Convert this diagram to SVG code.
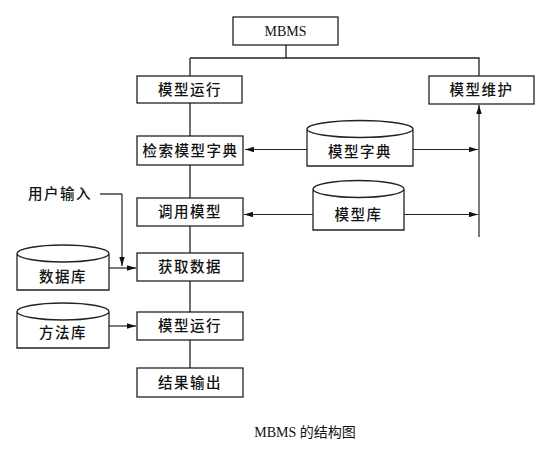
<svg xmlns="http://www.w3.org/2000/svg" width="554" height="452" viewBox="0 0 554 452">
<defs>
<marker id="ah" viewBox="0 0 10 6" refX="10" refY="3" markerWidth="9" markerHeight="5.4" markerUnits="userSpaceOnUse" orient="auto">
<path d="M0,0 L10,3 L0,6 Z" fill="#111"/>
</marker>
<style>
.box{fill:#fff;stroke:#222;stroke-width:1.3}
.cyl{fill:#fff;stroke:#222;stroke-width:1.3}
.ln{fill:none;stroke:#222;stroke-width:1.3}
.arr{fill:none;stroke:#222;stroke-width:1.2;marker-end:url(#ah)}
.t{font-family:"Liberation Serif","Noto Sans CJK SC",serif;font-size:14px;fill:#111;text-anchor:middle;dominant-baseline:central}
.tz{font-size:14.5px;letter-spacing:1.5px;font-weight:500}
</style>
</defs>
<rect width="554" height="452" fill="#fff"/>
<g id="connectors">
<path class="ln" d="M286,45 V58 M190,58 H479 V76"/>
<path class="ln" d="M190,58 V76 M190,103 V136 M190,165 V198 M190,226 V253 M190,281 V312 M190,340 V368"/>
<path class="arr" d="M307,149.5 H245"/>
<path class="arr" d="M413,149.5 H478"/>
<path class="arr" d="M313,214.5 H244"/>
<path class="arr" d="M404,214.5 H478"/>
<path class="arr" d="M479,237 V105"/>
<path class="ln" d="M100,194 H122"/>
<path class="arr" d="M122,194 V266"/>
<path class="arr" d="M109,268 H136"/>
<path class="arr" d="M109,326 H136"/>
</g>
<g id="mbms"><rect class="box" x="233" y="17" width="105" height="28"/><text class="t" x="285.5" y="31">MBMS</text></g>
<g id="run1"><rect class="box" x="137" y="76" width="105" height="27"/><text class="t tz" x="190" y="90">模型运行</text></g>
<g id="maint"><rect class="box" x="429" y="76" width="105" height="28"/><text class="t tz" x="481.5" y="90">模型维护</text></g>
<g id="search"><rect class="box" x="137" y="136" width="106" height="29"/><text class="t tz" x="190.5" y="150.5">检索模型字典</text></g>
<g id="dict"><path class="cyl" d="M307,129 V166 H413 V129 A53,8.5 0 0 0 307,129 A53,8.5 0 0 0 413,129"/><text class="t tz" x="360" y="152">模型字典</text></g>
<g id="call"><rect class="box" x="137" y="198" width="106" height="28"/><text class="t tz" x="190" y="212">调用模型</text></g>
<g id="modellib"><path class="cyl" d="M313,189 V230 H404 V189 A45.5,8.5 0 0 0 313,189 A45.5,8.5 0 0 0 404,189"/><text class="t tz" x="358.5" y="215">模型库</text></g>
<g id="userinput"><text class="t tz" x="60" y="194">用户输入</text></g>
<g id="getdata"><rect class="box" x="137" y="253" width="106" height="28"/><text class="t tz" x="190" y="267">获取数据</text></g>
<g id="db"><path class="cyl" d="M17,253.5 V290 H109 V253.5 A46,8.5 0 0 0 17,253.5 A46,8.5 0 0 0 109,253.5"/><text class="t tz" x="63" y="277">数据库</text></g>
<g id="run2"><rect class="box" x="137" y="312" width="106" height="28"/><text class="t tz" x="190" y="326">模型运行</text></g>
<g id="methodlib"><path class="cyl" d="M17,311.5 V348 H109 V311.5 A46,8.5 0 0 0 17,311.5 A46,8.5 0 0 0 109,311.5"/><text class="t tz" x="63" y="333">方法库</text></g>
<g id="output"><rect class="box" x="137" y="368" width="106" height="29"/><text class="t tz" x="190" y="382.5">结果输出</text></g>
<text class="t" x="305" y="432">MBMS 的结构图</text>
</svg>
